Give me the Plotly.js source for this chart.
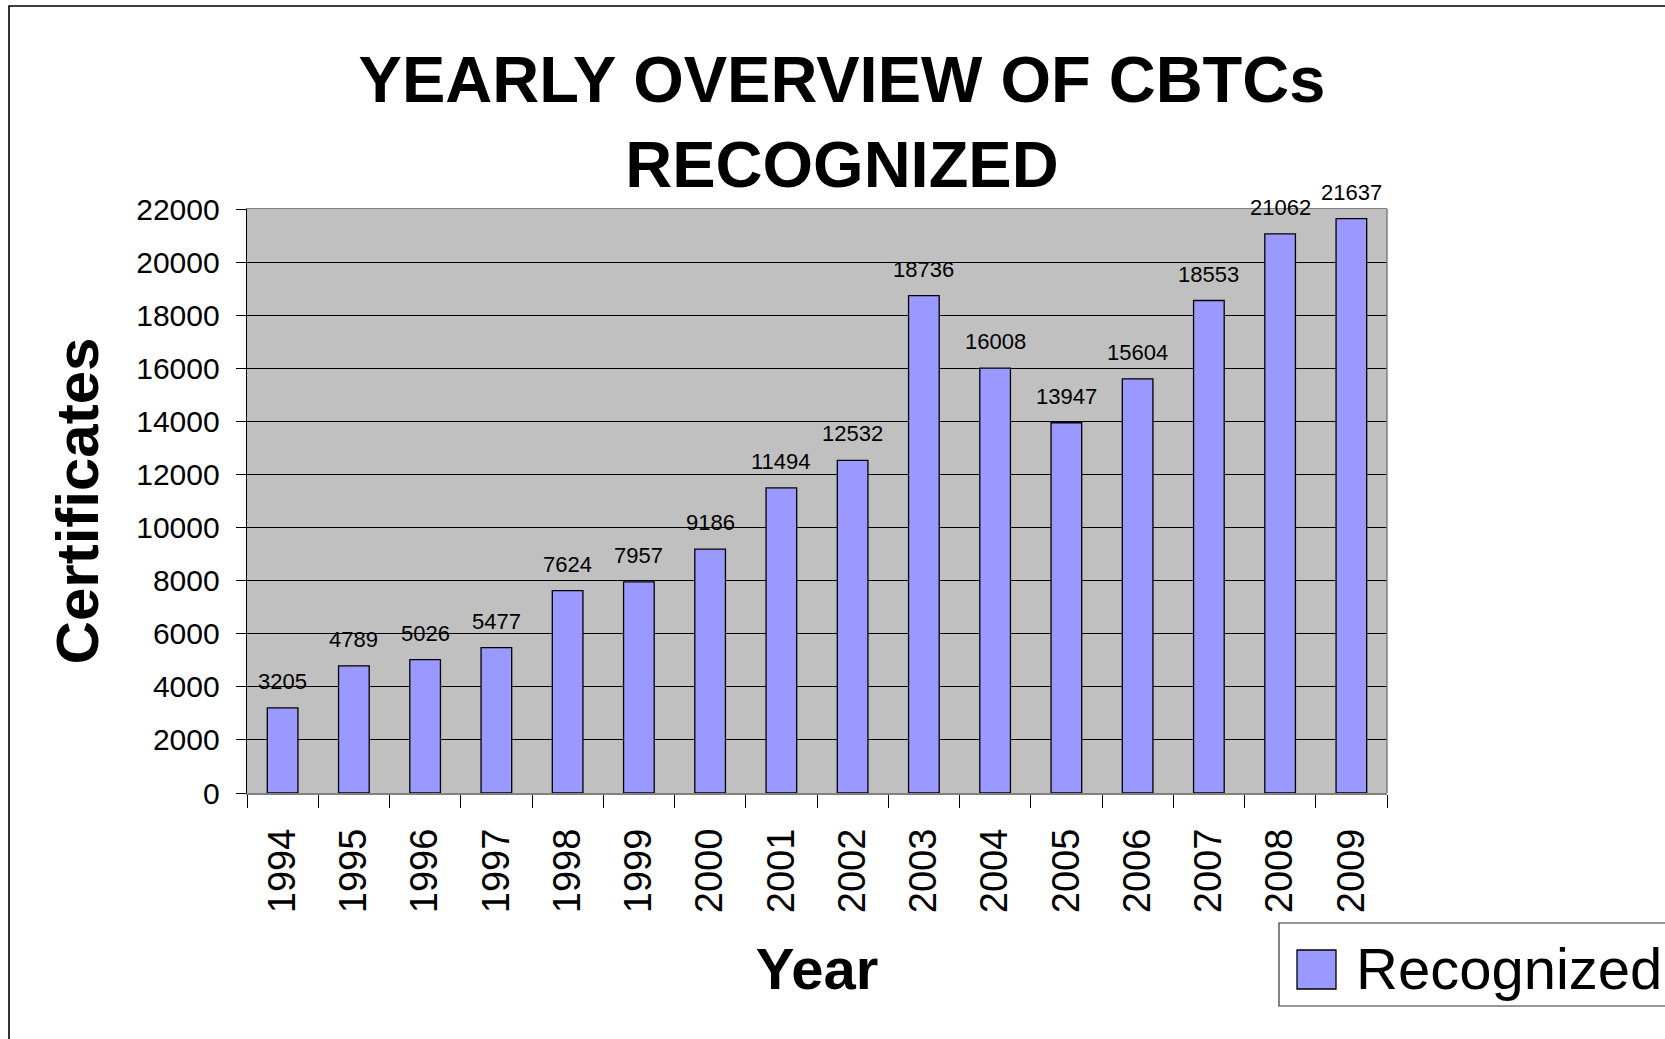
<!DOCTYPE html>
<html>
<head>
<meta charset="utf-8">
<script src="https://cdn.plot.ly/plotly-3.0.1.min.js"></script>
<style>
  html, body { margin: 0; padding: 0; background: #ffffff; }
  #chart { width: 1665px; height: 1039px; }
</style>
</head>
<body>
<div id="chart"></div>
<script>
// ---- Data ----
const years = ['1994','1995','1996','1997','1998','1999','2000','2001','2002','2003','2004','2005','2006','2007','2008','2009'];
const recognized = [3205, 4789, 5026, 5477, 7624, 7957, 9186, 11494, 12532, 18736, 16008, 13947, 15604, 18553, 21062, 21637];
const yTicks = [0, 2000, 4000, 6000, 8000, 10000, 12000, 14000, 16000, 18000, 20000, 22000];
const seriesName = 'Recognized';
const chartTitle = 'YEARLY OVERVIEW OF CBTCs<br>RECOGNIZED';
const xTitle = 'Year';
const yTitle = 'Certificates';

// ---- Layout geometry (pixels) ----
const W = 1665, H = 1039;
const L = 247, R = 1387, T = 209, B = 793;
const pw = R - L, ph = B - T;
const px = x => (x - L) / pw;
const py = y => (B - y) / ph;

const FONT = 'Liberation Sans, Arial, Helvetica, sans-serif';

const trace = {
  type: 'bar',
  x: years,
  y: recognized,
  name: seriesName,
  marker: { color: '#9999FF', line: { color: '#000000', width: 1.3 } },
  showlegend: false,
  hoverinfo: 'x+y'
};

// value labels above each bar (x given as category index)
const labelAnns = years.map((yr, i) => ({
  x: i, y: recognized[i], xref: 'x', yref: 'y',
  text: String(recognized[i]),
  showarrow: false, yanchor: 'bottom', xanchor: 'center',
  yshift: 12,
  font: { family: FONT, size: 22, color: '#000000' }
}));

const legendAnn = {
  xref: 'paper', yref: 'paper',
  x: px(1354), y: py(968),
  xanchor: 'left', yanchor: 'middle',
  text: seriesName, showarrow: false,
  font: { family: FONT, size: 58, color: '#000000' }
};

const shapes = [
  // outer chart frame
  { type: 'rect', xref: 'paper', yref: 'paper',
    x0: px(9), x1: px(1680), y0: py(1060), y1: py(6),
    line: { color: '#000000', width: 1.6 }, fillcolor: 'rgba(0,0,0,0)', layer: 'below' },
  // right border of plot area
  { type: 'line', xref: 'paper', yref: 'paper',
    x0: 1, x1: 1, y0: 0, y1: 1,
    line: { color: '#808080', width: 1.5 }, layer: 'above' },
  // legend box
  { type: 'rect', xref: 'paper', yref: 'paper',
    x0: px(1279), x1: px(1680), y0: py(1006), y1: py(923),
    line: { color: '#333333', width: 1.2 }, fillcolor: '#ffffff', layer: 'above' },
  // legend swatch
  { type: 'rect', xref: 'paper', yref: 'paper',
    x0: px(1297), x1: px(1336), y0: py(989), y1: py(950),
    line: { color: '#000000', width: 1.3 }, fillcolor: '#9999FF', layer: 'above' }
];

const layout = {
  width: W, height: H,
  margin: { l: L, r: W - R, t: T, b: H - B, pad: 0 },
  paper_bgcolor: '#ffffff',
  plot_bgcolor: '#C0C0C0',
  font: { family: FONT, color: '#000000' },
  showlegend: false,
  bargap: 0.57,
  title: {
    text: chartTitle,
    font: { family: FONT, size: 65, color: '#000000', weight: 'bold' },
    xref: 'container', yref: 'container',
    x: 842 / W, xanchor: 'center',
    y: 1 - 102 / H, yanchor: 'top'
  },
  xaxis: {
    type: 'category',
    range: [-0.5, years.length - 0.5],
    autorange: false,
    tickangle: -90,
    ticks: 'outside', ticklen: 13, tickcolor: '#000000', tickwidth: 1,
    tickson: 'boundaries',
    tickfont: { family: FONT, size: 38, color: '#000000' },
    ticklabelstandoff: 19,
    showline: true, linecolor: '#808080', linewidth: 1.5, mirror: true,
    showgrid: false, zeroline: false,
    fixedrange: true,
    title: { text: xTitle, font: { family: FONT, size: 58, weight: 'bold', color: '#000000' }, standoff: 36 }
  },
  yaxis: {
    range: [0, 22000],
    autorange: false,
    tickmode: 'array', tickvals: yTicks, ticktext: yTicks.map(String),
    ticks: 'outside', ticklen: 10, tickcolor: '#000000', tickwidth: 1,
    tickfont: { family: FONT, size: 30, color: '#000000' },
    ticklabelstandoff: 10,
    showline: true, linecolor: '#000000', linewidth: 1.3,
    showgrid: true, gridcolor: '#000000', gridwidth: 1,
    zeroline: false,
    fixedrange: true,
    title: { text: yTitle, font: { family: FONT, size: 60, weight: 'bold', color: '#000000' }, standoff: 18 }
  },
  annotations: labelAnns.concat([legendAnn]),
  shapes: shapes
};

Plotly.newPlot('chart', [trace], layout, { displayModeBar: false, staticPlot: true });
</script>
</body>
</html>
